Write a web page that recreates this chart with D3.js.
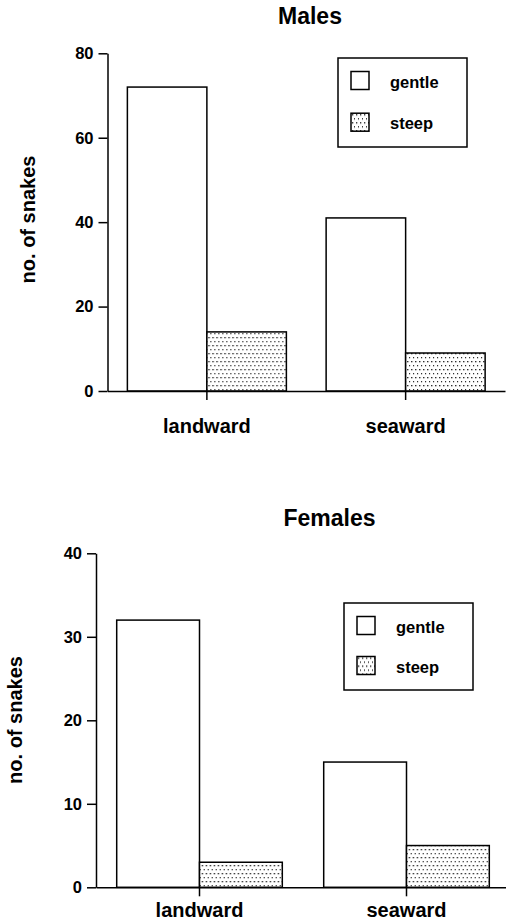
<!DOCTYPE html>
<html>
<head>
<meta charset="utf-8">
<script src="https://cdn.jsdelivr.net/npm/d3@7"></script>
<style>
  body { margin: 0; background: #fff; }
  svg text { font-family: "Liberation Sans", Arial, Helvetica, sans-serif; font-weight: bold; fill: #000; }
</style>
</head>
<body>
<div id="chart"></div>
<script>
const categories = ["landward", "seaward"];
const slopes = ["gentle", "steep"];
const malesGentle = [72, 41];
const malesSteep = [14, 9];
const femalesGentle = [32, 15];
const femalesSteep = [3, 5];
const malesTicks = [0, 20, 40, 60, 80];
const femalesTicks = [0, 10, 20, 30, 40];

const width = 506;
const height = 922;

const svg = d3.select('#chart')
  .append('svg')
  .attr('width', width)
  .attr('height', height);

// stipple fill for the steep bars
const pat = svg.append('defs').append('pattern')
  .attr('id', 'dots')
  .attr('patternUnits', 'userSpaceOnUse')
  .attr('width', 4)
  .attr('height', 8);
pat.append('rect').attr('width', 4).attr('height', 8).attr('fill', '#fff');
pat.append('rect').attr('x', 1).attr('y', 1).attr('width', 1.3).attr('height', 1.3).attr('fill', '#111');
pat.append('rect').attr('x', 3).attr('y', 5).attr('width', 1.3).attr('height', 1.3).attr('fill', '#111');

const fills = { gentle: '#fff', steep: 'url(#dots)' };

function drawPanel(p) {
  const g = svg.append('g');

  const x = d3.scaleBand()
    .domain(categories)
    .range([p.left, p.right])
    .paddingInner(0.2)
    .paddingOuter(0.1);

  const x1 = d3.scaleBand()
    .domain(slopes)
    .range([0, x.bandwidth()]);

  const y = d3.scaleLinear()
    .domain([0, p.max])
    .range([p.bottom, p.top]);

  const rows = categories.map((c, i) => ({ cat: c, gentle: p.gentle[i], steep: p.steep[i] }));

  g.selectAll('g.grp')
    .data(rows)
    .join('g')
    .attr('class', 'grp')
    .attr('transform', d => `translate(${x(d.cat)},0)`)
    .selectAll('rect')
    .data(d => slopes.map(s => ({ key: s, value: d[s] })))
    .join('rect')
    .attr('x', d => x1(d.key))
    .attr('y', d => y(d.value))
    .attr('width', x1.bandwidth())
    .attr('height', d => y(0) - y(d.value))
    .attr('fill', d => fills[d.key])
    .attr('stroke', '#000')
    .attr('stroke-width', 1.5);

  // y axis
  g.append('g')
    .attr('transform', `translate(${p.left},0)`)
    .call(d3.axisLeft(y).tickValues(p.ticks).tickSize(9).tickPadding(5).tickSizeOuter(0))
    .call(a => a.selectAll('path, line').attr('stroke', '#000').attr('stroke-width', 1.5))
    .call(a => a.selectAll('text').attr('font-size', 16.5))
    .attr('font-family', null);

  // x axis
  g.append('g')
    .attr('transform', `translate(0,${p.bottom})`)
    .call(d3.axisBottom(x).tickSize(9).tickPadding(p.catPad).tickSizeOuter(0))
    .call(a => a.selectAll('path, line').attr('stroke', '#000').attr('stroke-width', 1.5))
    .call(a => a.selectAll('text').attr('font-size', 20))
    .attr('font-family', null);

  // title
  g.append('text')
    .attr('x', p.titleX)
    .attr('y', p.titleY)
    .attr('text-anchor', 'middle')
    .attr('font-size', 23)
    .text(p.title);

  // y label
  g.append('text')
    .attr('transform', `translate(${p.labelX},${p.labelY}) rotate(-90)`)
    .attr('text-anchor', 'middle')
    .attr('font-size', 20)
    .text('no. of snakes');

  // legend
  const lg = g.append('g').attr('transform', `translate(${p.legX},${p.legY})`);
  lg.append('rect')
    .attr('width', 129)
    .attr('height', p.legH)
    .attr('fill', '#fff')
    .attr('stroke', '#000')
    .attr('stroke-width', 1.5);
  const item = lg.selectAll('g.item')
    .data(slopes)
    .join('g')
    .attr('class', 'item')
    .attr('transform', (d, i) => `translate(13,${13.5 + i * p.legGap})`);
  item.append('rect')
    .attr('width', 18)
    .attr('height', 18)
    .attr('fill', d => fills[d])
    .attr('stroke', '#000')
    .attr('stroke-width', 1.5);
  item.append('text')
    .attr('x', 39)
    .attr('y', 16)
    .attr('font-size', 16.5)
    .text(d => d);
}

drawPanel({
  title: 'Males', titleX: 310, titleY: 24,
  gentle: malesGentle, steep: malesSteep, ticks: malesTicks, max: 80,
  left: 107.5, right: 505, top: 53.3, bottom: 391, catPad: 18.5,
  labelX: 35, labelY: 219.5,
  legX: 338, legY: 58, legH: 89, legGap: 41.7
});

drawPanel({
  title: 'Females', titleX: 329.5, titleY: 526,
  gentle: femalesGentle, steep: femalesSteep, ticks: femalesTicks, max: 40,
  left: 96, right: 510, top: 553.3, bottom: 887.3, catPad: 6.5,
  labelX: 22, labelY: 720,
  legX: 344, legY: 603, legH: 87, legGap: 40
});
</script>
</body>
</html>
